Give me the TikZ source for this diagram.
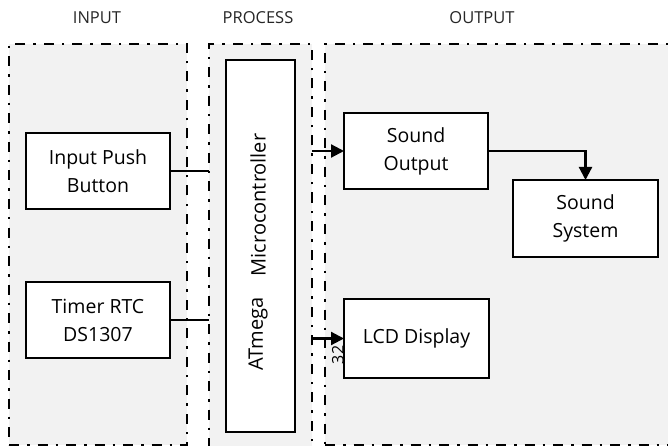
\documentclass[tikz,border=0pt]{standalone}
\usepackage{fontspec}
\setmainfont{Open Sans}
\usetikzlibrary{positioning, arrows.meta}

\definecolor{grpfill}{HTML}{F2F2F2}
\tikzset{
  grp/.style={draw=black, fill=grpfill, line width=2.2pt, inner sep=0pt, outer sep=0pt,
    dash pattern=on 10pt off 8pt on 2.5pt off 8pt},
  blk/.style={draw=black, fill=white, line width=2.2pt, inner sep=0pt, outer sep=0pt,
    align=center, font=\fontsize{19.5}{28}\selectfont},
  ttl/.style={font=\fontsize{16.5}{19}\selectfont, text=black!85},
  wire/.style={line width=2.2pt},
}

\begin{document}
\begin{tikzpicture}[x=1pt, y=-1pt, >={Triangle[length=13pt, width=13pt]}]
\useasboundingbox (0,0) rectangle (668,446);
\clip (0,0) rectangle (668,446);

% --- Titles ---
\node[ttl] (ttlin) at (97, 18) {INPUT};
\node[ttl] (ttlproc) at (258, 18) {PROCESS};
\node[ttl] (ttlout) at (482, 18) {OUTPUT};

% --- Groups ---
\node[grp, minimum width=178pt, minimum height=401pt] (ingrp) at (98, 244.5) {};
\node[grp, minimum width=103pt, minimum height=426pt] (procgrp) at (260.5, 257) {};
\node[grp, minimum width=365pt, minimum height=401pt] (outgrp) at (507.5, 244.5) {};

% --- Microcontroller ---
\node[blk, minimum width=69pt, minimum height=372pt] (mcu) at (260.5, 246) {};
\node[font=\fontsize{20}{28}\selectfont, rotate=90] (mcutop) at (258, 205) {Microcontroller};
\node[font=\fontsize{20}{28}\selectfont, rotate=90] (mcubot) at (258, 334) {ATmega};

% --- Input blocks ---
\node[blk, minimum width=144pt, minimum height=76pt] (btn) at (98, 171) {Input Push\\Button};
\node[blk, minimum width=144pt, minimum height=76pt] (rtc) at (98, 320) {Timer RTC\\DS1307};

% --- Output blocks ---
\node[blk, minimum width=144pt, minimum height=76pt] (sndout) at (416, 151) {Sound\\Output};
\node[blk, minimum width=145pt, minimum height=77pt] (sndsys) at (585.5, 218.5) {Sound\\System};
\node[blk, minimum width=145pt, minimum height=79pt] (lcd) at (416.5, 338.5) {LCD Display};

% --- Connectors ---
\draw[wire] (btn.east) -- (btn.east -| procgrp.west);
\draw[wire] (rtc.east) -- (rtc.east -| procgrp.west);
\draw[wire, ->] (sndout.west -| procgrp.east) -- (sndout.west);
\draw[wire, ->] (lcd.west -| procgrp.east) -- (lcd.west);
\draw[wire, ->] (sndout.east) -| (sndsys.north);

% --- Overflow label ---
\node[font=\fontsize{16}{18}\selectfont, rotate=90] (mcunum) at (338, 355) {32};

\end{tikzpicture}
\end{document}
